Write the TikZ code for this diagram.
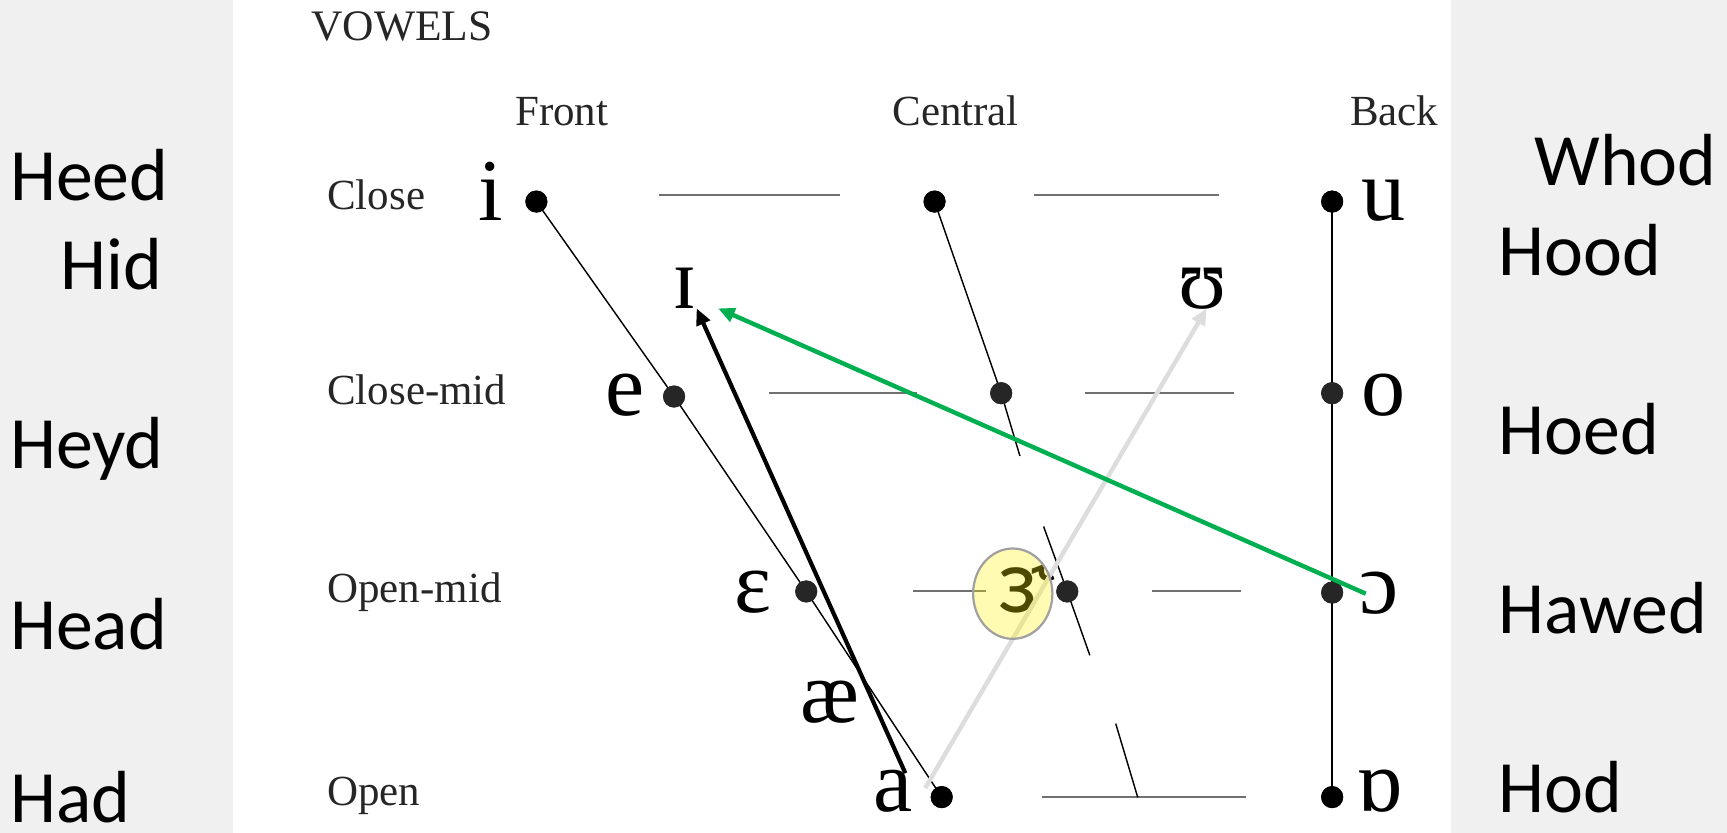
\documentclass[tikz,border=0pt]{standalone}
\usepackage{fontspec}
\setmainfont{Liberation Serif}
\newfontfamily\calfont{Carlito}
\usetikzlibrary{arrows.meta,shapes.geometric}
\definecolor{bggray}{HTML}{F0F0F0}
\definecolor{hline}{HTML}{707070}
\definecolor{arrgreen}{HTML}{00B050}
\definecolor{arrgray}{HTML}{DDDDDD}
\definecolor{ellgray}{HTML}{A0A0A0}
\definecolor{labtext}{HTML}{262626}
\tikzset{
  word/.style={font=\calfont\fontsize{67}{67}\selectfont, anchor=base west, inner sep=0pt},
  axislab/.style={font=\fontsize{39}{39}\selectfont, anchor=base west, inner sep=0pt, text=labtext},
  vowel/.style={font=\fontsize{80}{80}\selectfont, anchor=base, inner sep=0pt},
  vdot/.style={circle, fill=#1, inner sep=0pt, minimum size=20pt},
  vdot/.default=black,
  gridline/.style={draw=hline, line width=1.8pt},
  chartline/.style={draw=black, line width=1.3pt},
  arr/.style={-{Triangle[length=15pt,width=13pt]}, line width=4pt},
}
\begin{document}
\begin{tikzpicture}[x=1pt,y=-1pt]
\useasboundingbox (0,0) rectangle (1568,756);
\fill[bggray] (0,0) rectangle (1568,756);
\fill[white] (211.5,0) rectangle (1317,756);

% headings
\node[axislab, font=\fontsize{39.5}{39.5}\selectfont] (title) at (282.5,37) {VOWELS};
\node[axislab] (front) at (467.5,113.5) {Front};
\node[axislab] (central) at (810,113.5) {Central};
\node[axislab] (back) at (1225.5,113.5) {Back};
\node[axislab] (close) at (297,190) {Close};
\node[axislab] (closemid) at (297,367) {Close-mid};
\node[axislab] (openmid) at (297,547) {Open-mid};
\node[axislab] (open) at (297,731) {Open};

% horizontal grid lines
\coordinate (h1a) at (598,177);   \coordinate (h1b) at (762.5,177);
\coordinate (h1c) at (938.5,177); \coordinate (h1d) at (1107,177);
\coordinate (h2a) at (698,357);   \coordinate (h2b) at (833,357);
\coordinate (h2c) at (985,357);   \coordinate (h2d) at (1120,357);
\coordinate (h3a) at (829,537);   \coordinate (h3b) at (895,537);
\coordinate (h3c) at (1046,537);  \coordinate (h3d) at (1127,537);
\coordinate (h4a) at (946,724);   \coordinate (h4b) at (1131,724);
\draw[gridline] (h1a) -- (h1b) (h1c) -- (h1d);
\draw[gridline] (h2a) -- (h2b) (h2c) -- (h2d);
\draw[gridline] (h3a) -- (h3b) (h3c) -- (h3d);
\draw[gridline] (h4a) -- (h4b);

% dots
\node[vdot] (dI) at (487,183) {};
\node[vdot] (dCc) at (848.5,183) {};
\node[vdot] (dU) at (1209.5,183) {};
\node[vdot=labtext] (dE) at (612,360) {};
\node[vdot=labtext] (dCm) at (909,357) {};
\node[vdot=labtext] (dO) at (1209.5,357) {};
\node[vdot=labtext] (dEps) at (732,537) {};
\node[vdot=labtext] (dOm) at (969,537) {};
\node[vdot=labtext] (dOo) at (1209.5,538) {};
\node[vdot] (dA) at (855,723.7) {};
\node[vdot] (dAo) at (1209.5,723.7) {};

% chart lines
\coordinate (c1end) at (926,414);
\coordinate (c2top) at (947.5,478);
\coordinate (c2end) at (989.5,595);
\coordinate (c3top) at (1013,657);
\coordinate (c3end) at (1033,724);
\draw[chartline] (dI.center) -- (dE.center) -- (dEps.center) -- (dA.center);
\draw[chartline] (dCc.center) -- (dCm.center) -- (c1end);
\draw[chartline] (c2top) -- (dOm.center) -- (c2end);
\draw[chartline] (c3top) -- (c3end);
\draw[chartline] (dU.center) -- (dAo.center);
% redraw dots over lines
\foreach \d/\c in {dI/black,dCc/black,dU/black,dE/labtext,dCm/labtext,dO/labtext,dEps/labtext,dOm/labtext,dOo/labtext,dA/black,dAo/black}
  \fill[\c] (\d.center) circle (10pt);

% vowel symbols
\node[vowel] (vi) at (445.5,200) {i};
\node[vowel] (vu) at (1256,200) {u};
\node[vowel] (vI) at (622,280) {ɪ};
\node[vowel] (vU) at (1092,280) {ʊ};
\node[vowel] (ve) at (567.5,377) {e};
\node[vowel] (vo) at (1256,377) {o};
\node[vowel] (veps) at (684,556) {ɛ};
\node[vowel] (vopo) at (1252,557) {ɔ};
\node[vowel] (vae) at (753.5,656) {æ};
\node[vowel] (va) at (811,737) {a};
\node[vowel] (vturn) at (1252.5,737) {ɒ};
\node[font=\calfont\fontsize{84}{84}\selectfont, anchor=base west, inner sep=0pt] (vrhot) at (906,556) {ɜ\kern-9pt\raisebox{12pt}{˞}};

% arrows
\coordinate (gStart) at (840,715.5);
\coordinate (gTip) at (1095.6,280);
\coordinate (bStart) at (822,702);
\coordinate (bTip) at (632.5,280);
\coordinate (grStart) at (1240,539);
\coordinate (grTip) at (652,280);
\draw[arr, draw=arrgray, fill=arrgray] (gStart) -- (gTip);
\draw[arr, draw=black, fill=black, line width=3.8pt] (bStart) -- (bTip);
\draw[arr, draw=arrgreen, fill=arrgreen] (grStart) -- (grTip);

% highlight ellipse
\node[ellipse, draw=ellgray, line width=2pt, fill=yellow, fill opacity=0.3, draw opacity=1,
      minimum width=72pt, minimum height=82pt, inner sep=0pt] (hl) at (919.5,539) {};

% side words
\node[word] (heed) at (9,181.6) {Heed};
\node[word] (hid) at (54.5,262.5) {Hid};
\node[word] (heyd) at (9,425.5) {Heyd};
\node[word] (head) at (9,589.5) {Head};
\node[word] (had) at (9,747) {Had};
\node[word] (whod) at (1393,168) {Whod};
\node[word] (hood) at (1360.5,249.7) {Hood};
\node[word] (hoed) at (1360.5,413) {Hoed};
\node[word] (hawed) at (1360.5,575) {Hawed};
\node[word] (hod) at (1360.5,738) {Hod};
\end{tikzpicture}
\end{document}
